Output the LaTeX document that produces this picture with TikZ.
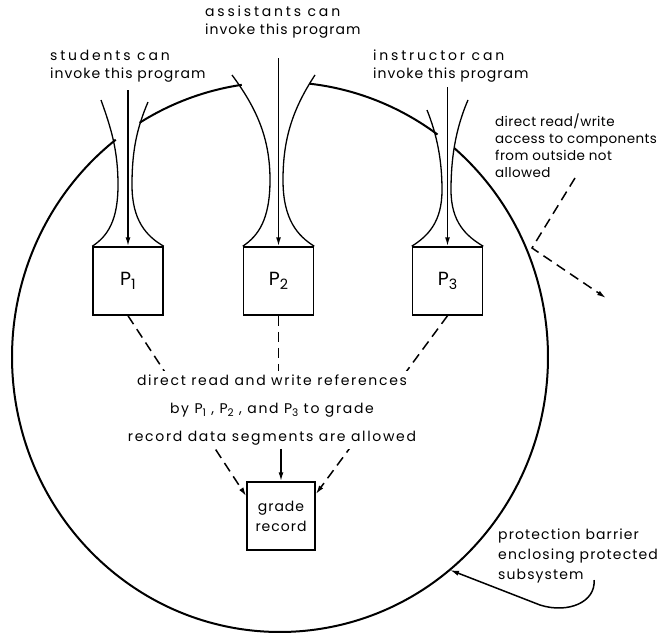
\documentclass[tikz,border=0pt]{standalone}
\usepackage{fontspec}
\usepackage{graphicx}
\setmainfont{Poppins}[LetterSpace=7]
\usetikzlibrary{arrows.meta,backgrounds}
\newcommand\pn[1]{P\raisebox{-0.45ex}{\scalebox{0.75}{#1}}}
\newcommand\wide[1]{{\addfontfeatures{LetterSpace=20}#1}}
\begin{document}
\begin{tikzpicture}[x=1pt,y=-1pt]
  \tikzset{block/.style={shape=rectangle,draw,line width=1.5pt,minimum width=70pt,minimum height=68pt,font=\fontsize{19}{22}\selectfont},
    note/.style={align=left,inner sep=0pt,anchor=north west,font=\fontsize{14}{18}\selectfont},
    barrier/.style={line width=2pt},
    funnel/.style={line width=1.3pt},
    dashline/.style={line width=1.5pt,dash pattern=on 10pt off 6pt},
    tip/.style={-{Latex[length=9pt,width=5pt]}}};
  \useasboundingbox (0,0) rectangle (670,637);
  \node[block](P1) at (128,281){\pn{1}};
  \node[block](P2) at (278.5,281){\pn{2}};
  \node[block](P3) at (447.5,281){\pn{3}};
  \node[block,minimum width=68pt,align=center,font=\fontsize{14}{20}\selectfont](Grade) at (281,516){grade\\record};
  \node[note](Stud) at (50,50){\wide{students can}\\invoke this program};
  \node[note](Asst) at (205,6){\wide{assistants can}\\invoke this program};
  \node[note](Instr) at (373,50){\wide{instructor can}\\invoke this program};
  \node[note,font=\fontsize{13.5}{17}\selectfont\addfontfeatures{LetterSpace=3}](Outside) at (495,114){direct read/write\\access to components\\from outside not\\allowed};
  \node[note,font=\fontsize{14}{20}\selectfont\addfontfeatures{LetterSpace=8}](Prot) at (498,529){protection barrier\\enclosing protected\\subsystem};
  \node[fill=white,align=center,font=\fontsize{14}{28}\selectfont\addfontfeatures{LetterSpace=12}](Refs) at (272,410){direct read and write references\\by \pn{1} , \pn{2} , and \pn{3} to grade\\record data segments are allowed};
  \coordinate (Ctr) at (280,357);
  \coordinate (In1) at (128,90);
  \coordinate (In2) at (278.5,58);
  \coordinate (In3) at (447.5,87);
  \coordinate (Out1) at (575,178);
  \coordinate (Bounce) at (532,248);
  \coordinate (Out2) at (606,298);
  \coordinate (Bar1) at (594,580);
  \coordinate (BarTip) at (450,570);
  % the barrier, broken where the programs come in
  \foreach \a/\b in {-49.4/232.2,-121.6/-98.2,-83.6/-54}
    \draw[barrier] (Ctr) ++(\a:268 and 275) arc[start angle=\a,end angle=\b,x radius=268,y radius=275];
  \draw[funnel] (101,100) .. controls (111,128) and (118,150) .. (118,185) .. controls (118,220) and (108,236) .. (P1.north west);
  \draw[funnel] (148,102) .. controls (137,128) and (132,150) .. (132,185) .. controls (132,220) and (146,236) .. (P1.north east);
  \draw[funnel] (232,75) .. controls (258,110) and (270,140) .. (270,180) .. controls (270,220) and (258,236) .. (P2.north west);
  \draw[funnel] (315,75) .. controls (292,110) and (283,140) .. (283,180) .. controls (283,220) and (298,236) .. (P2.north east);
  \draw[funnel] (427,110) .. controls (437,135) and (442,160) .. (442,190) .. controls (442,222) and (428,236) .. (P3.north west);
  \draw[funnel] (468,100) .. controls (455,130) and (451,160) .. (451,190) .. controls (451,222) and (466,236) .. (P3.north east);
  \draw[tip,line width=1.5pt] (In1) -- (P1.north);
  \draw[tip,line width=1.5pt] (In2) -- (P2.north);
  \draw[tip,line width=1.5pt] (In3) -- (P3.north);
  \begin{scope}[on background layer]
    \draw[dashline,tip] (P1.south) -- ([yshift=-15pt]Grade.north west);
    \draw[dashline,tip] (P3.south) -- ([yshift=-13pt]Grade.north east);
  \end{scope}
  \draw[dashline] (P2.south) -- (P2.south |- Refs.north);
  \draw[tip,line width=1.5pt] (Grade.north |- Refs.south) -- (Grade.north);
  \draw[dashline,tip] (Out1) -- (Bounce) -- (Out2);
  \draw[tip,line width=1.5pt] (Bar1) .. controls (596,602) and (568,614) .. (540,605) -- (BarTip);
\end{tikzpicture}
\end{document}
